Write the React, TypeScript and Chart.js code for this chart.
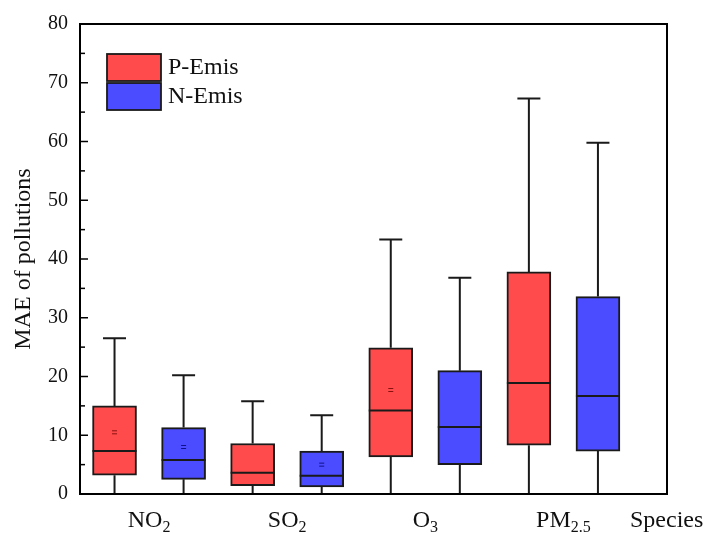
import React, { useEffect, useRef } from 'react';
import { Chart, registerables } from 'chart.js';

Chart.register(...registerables);

// ---- data ----
const categoryBase = ['NO', 'SO', 'O', 'PM'];
const categorySub = ['2', '2', '3', '2.5'];
const seriesLabels = ['P-Emis', 'N-Emis'];

const pMin = [0, 0, 0, 0];
const pQ1 = [3.2, 1.4, 6.3, 8.3];
const pMedian = [7.3, 3.6, 14.2, 18.9];
const pQ3 = [15.0, 8.6, 24.9, 37.8];
const pMax = [26.5, 15.8, 43.3, 67.3];
const pMean: (number | null)[] = [10.5, null, 17.7, null];

const nMin = [0, 0, 0, 0];
const nQ1 = [2.5, 1.2, 5.0, 7.3];
const nMedian = [5.8, 3.1, 11.4, 16.7];
const nQ3 = [11.3, 7.3, 21.0, 33.6];
const nMax = [20.2, 13.4, 36.8, 59.8];
const nMean: (number | null)[] = [8.0, 5.0, null, null];

const yTicksMajor = [0, 10, 20, 30, 40, 50, 60, 70, 80];
const xAxisName = 'Species';
const yAxisName = 'MAE of pollutions';

const RED = '#FF4B4B';
const BLUE = '#4B4BFF';
const EDGE = '#1a1a1a';
const FONT = "'Liberation Serif', 'Times New Roman', serif";
const LW = 2;

const groups = [
  { min: pMin, q1: pQ1, med: pMedian, q3: pQ3, max: pMax, mean: pMean, color: RED, dark: '#8a1010', offset: 1 },
  { min: nMin, q1: nQ1, med: nMedian, q3: nQ3, max: nMax, mean: nMean, color: BLUE, dark: '#10108a', offset: 2 },
];

const boxHalf = 22;

const extras = {
  id: 'boxExtras',
  beforeDatasetsDraw(chart: any) {
    const { ctx } = chart;
    const xs = chart.scales.x;
    const ys = chart.scales.y;
    ctx.save();
    ctx.strokeStyle = EDGE;
    ctx.lineWidth = LW;
    groups.forEach((g) => {
      categoryBase.forEach((_, i) => {
        const px = xs.getPixelForValue(2 * i + g.offset);
        const yTop = ys.getPixelForValue(g.max[i]);
        const yQ3 = ys.getPixelForValue(g.q3[i]);
        const yQ1 = ys.getPixelForValue(g.q1[i]);
        const yBot = ys.getPixelForValue(g.min[i]);
        ctx.beginPath();
        ctx.moveTo(px, yTop);
        ctx.lineTo(px, yQ3);
        ctx.moveTo(px, yQ1);
        ctx.lineTo(px, yBot);
        ctx.moveTo(px - 11.5, yTop);
        ctx.lineTo(px + 11.5, yTop);
        ctx.stroke();
      });
    });
    ctx.restore();
  },
  afterDatasetsDraw(chart: any) {
    const { ctx, chartArea } = chart;
    const xs = chart.scales.x;
    const ys = chart.scales.y;
    ctx.save();
    // medians and means
    groups.forEach((g) => {
      categoryBase.forEach((_, i) => {
        const px = xs.getPixelForValue(2 * i + g.offset);
        const ym = ys.getPixelForValue(g.med[i]);
        ctx.strokeStyle = EDGE;
        ctx.lineWidth = LW;
        ctx.beginPath();
        ctx.moveTo(px - boxHalf, ym);
        ctx.lineTo(px + boxHalf, ym);
        ctx.stroke();
        const mv = g.mean[i];
        if (mv !== null && mv !== undefined) {
          const ya = ys.getPixelForValue(mv);
          ctx.strokeStyle = g.dark;
          ctx.lineWidth = 1;
          ctx.beginPath();
          ctx.moveTo(px - 2.5, ya - 1.5);
          ctx.lineTo(px + 2.5, ya - 1.5);
          ctx.moveTo(px - 2.5, ya + 1.5);
          ctx.lineTo(px + 2.5, ya + 1.5);
          ctx.stroke();
        }
      });
    });
    // frame
    ctx.strokeStyle = '#000';
    ctx.lineWidth = LW;
    ctx.strokeRect(chartArea.left, chartArea.top, chartArea.right - chartArea.left, chartArea.bottom - chartArea.top);
    // inward y ticks
    ctx.lineWidth = 1.5;
    ys.ticks.forEach((t: any) => {
      const py = ys.getPixelForValue(t.value);
      const major = yTicksMajor.includes(t.value);
      const len = major ? 8 : 5;
      ctx.beginPath();
      ctx.moveTo(chartArea.left, py);
      ctx.lineTo(chartArea.left + len, py);
      ctx.stroke();
    });
    // x category labels with subscripts
    ctx.fillStyle = '#111';
    ctx.textBaseline = 'alphabetic';
    const baseY = chartArea.bottom + 33;
    categoryBase.forEach((b, i) => {
      const cx = xs.getPixelForValue(2 * i + 1.5);
      ctx.font = `24px ${FONT}`;
      const wb = ctx.measureText(b).width;
      ctx.font = `16px ${FONT}`;
      const ws = ctx.measureText(categorySub[i]).width;
      const x0 = cx - (wb + ws) / 2;
      ctx.font = `24px ${FONT}`;
      ctx.textAlign = 'left';
      ctx.fillText(b, x0, baseY);
      ctx.font = `16px ${FONT}`;
      ctx.fillText(categorySub[i], x0 + wb, baseY + 5);
    });
    // axis name at right end
    ctx.font = `24px ${FONT}`;
    ctx.textAlign = 'left';
    ctx.fillText(xAxisName, chartArea.right - 37, baseY);
    // legend
    const lx = chartArea.left + 27;
    let ly = chartArea.top + 30;
    groups.forEach((g, k) => {
      ctx.fillStyle = g.color;
      ctx.fillRect(lx, ly, 54, 27);
      ctx.strokeStyle = EDGE;
      ctx.lineWidth = 1.8;
      ctx.strokeRect(lx, ly, 54, 27);
      ctx.fillStyle = '#111';
      ctx.font = `24px ${FONT}`;
      ctx.textAlign = 'left';
      ctx.textBaseline = 'middle';
      ctx.fillText(seriesLabels[k], lx + 61, ly + 14);
      ly += 29;
    });
    ctx.restore();
  },
};

export default function App() {
  const ref = useRef<HTMLCanvasElement | null>(null);
  useEffect(() => {
    if (!ref.current) return;
    const datasets = groups.map((g, k) => ({
      label: seriesLabels[k],
      data: categoryBase.map((_, i) => ({ x: 2 * i + g.offset, y: [g.q1[i], g.q3[i]] })),
      backgroundColor: g.color,
      borderColor: EDGE,
      borderWidth: LW,
      borderSkipped: false,
      barThickness: 44,
      grouped: false,
    }));
    const chart = new Chart(ref.current, {
      type: 'bar',
      data: { datasets } as any,
      options: {
        animation: false,
        responsive: false,
        devicePixelRatio: 1,
        layout: { padding: { top: 22, right: 39, bottom: 39, left: 0 }, autoPadding: false } as any,
        plugins: { legend: { display: false }, tooltip: { enabled: false } },
        scales: {
          x: {
            type: 'linear',
            min: 0.5,
            max: 9.0,
            offset: false,
            display: false,
          },
          y: {
            type: 'linear',
            min: 0,
            max: 80,
            afterFit: (s: any) => { s.width = 80; },
            border: { display: false },
            grid: { display: false, drawTicks: false },
            ticks: {
              stepSize: 5,
              padding: 12,
              color: '#111',
              font: { family: FONT, size: 20 },
              callback: (v: any) => (yTicksMajor.includes(v) ? String(v) : ''),
            },
            title: {
              display: true,
              text: yAxisName,
              color: '#111',
              font: { family: FONT, size: 24 },
              padding: { top: 9, bottom: 0 },
            },
          },
        },
      } as any,
      plugins: [extras],
    });
    return () => chart.destroy();
  }, []);
  return (
    <div style={{ position: 'fixed', left: 0, top: 0, width: 706, height: 533, background: '#fff' }}>
      <canvas ref={ref} width={706} height={533} />
    </div>
  );
}
